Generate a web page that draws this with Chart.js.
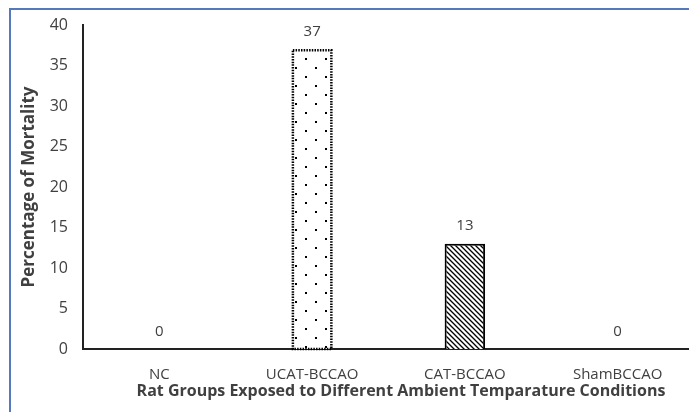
<!DOCTYPE html>
<html>
<head>
<meta charset="utf-8">
<script src="https://cdn.jsdelivr.net/npm/chart.js@4/dist/chart.umd.min.js"></script>
<style>
  html, body { margin: 0; padding: 0; background: #ffffff; overflow: hidden; }
  #wrap { position: relative; width: 689px; height: 412px; overflow: hidden; }
  #wrap canvas { position: absolute; left: 0; top: 0; }
  #frame { position: absolute; left: 9px; top: 8px; width: 690px; height: 420px;
           border-top: 2px solid #5679bd; border-left: 2px solid #5679bd; pointer-events: none; }
</style>
</head>
<body>
<div id="wrap">
  <canvas id="c" width="694" height="412" style="width:694px;height:412px"></canvas>
  <div id="frame"></div>
</div>
<script>
const categories = ['NC', 'UCAT-BCCAO', 'CAT-BCCAO', 'ShamBCCAO'];
const mortality = [0, 37, 13, 0];
const yTicks = [0, 5, 10, 15, 20, 25, 30, 35, 40];
const xTitle = 'Rat Groups Exposed to Different Ambient Temparature Conditions';
const yTitle = 'Percentage of Mortality';

// sparse staggered dot fill
function dotPattern() {
  const t = document.createElement('canvas');
  t.width = 20; t.height = 18;
  const g = t.getContext('2d');
  g.fillStyle = '#ffffff'; g.fillRect(0, 0, 20, 18);
  g.fillStyle = '#000000';
  g.fillRect(5, 4, 2, 2);
  g.fillRect(15, 13, 2, 2);
  return g.createPattern(t, 'repeat');
}
// dense backslash hatching
function hatchPattern() {
  const t = document.createElement('canvas');
  t.width = 5; t.height = 5;
  const g = t.getContext('2d');
  g.fillStyle = '#ffffff'; g.fillRect(0, 0, 5, 5);
  g.strokeStyle = '#000000'; g.lineWidth = 1.3;
  g.beginPath();
  g.moveTo(-1, -1); g.lineTo(6, 6);
  g.moveTo(-1, 4); g.lineTo(1, 6);
  g.moveTo(4, -1); g.lineTo(6, 1);
  g.stroke();
  return g.createPattern(t, 'repeat');
}

const fills = ['#ffffff', dotPattern(), hatchPattern(), '#ffffff'];
const dotted = [false, true, false, false];

// dotted outline for the speckled bar, value labels above every bar
const barDecor = {
  id: 'barDecor',
  afterDatasetsDraw(chart) {
    const ctx = chart.ctx;
    const meta = chart.getDatasetMeta(0);
    meta.data.forEach((bar, i) => {
      const { x, y, base, width } = bar.getProps(['x', 'y', 'base', 'width'], true);
      if (dotted[i] && mortality[i] > 0) {
        ctx.save();
        ctx.strokeStyle = '#000000';
        ctx.lineWidth = 2.5;
        ctx.setLineDash([1.5, 1.2]);
        ctx.strokeRect(x - width / 2 + 1, y + 1, width - 2, base - y - 1);
        ctx.restore();
      }
      ctx.save();
      ctx.fillStyle = '#404040';
      ctx.font = '15px "Open Sans"';
      ctx.textAlign = 'center';
      ctx.textBaseline = 'bottom';
      ctx.fillText(String(mortality[i]), x, y - 10);
      ctx.restore();
    });
  }
};

new Chart(document.getElementById('c'), {
  type: 'bar',
  data: {
    labels: categories,
    datasets: [{
      data: mortality,
      backgroundColor: fills,
      borderColor: dotted.map(d => d ? 'rgba(0,0,0,0)' : '#000000'),
      borderWidth: 2,
      borderSkipped: 'bottom',
      barPercentage: 0.265,
      categoryPercentage: 1
    }]
  },
  options: {
    responsive: false,
    animation: false,
    devicePixelRatio: 1,
    layout: { padding: { top: 25, right: 0, left: 0, bottom: 0 } },
    plugins: { legend: { display: false }, tooltip: { enabled: false } },
    scales: {
      x: {
        offset: true,
        grid: { display: false, drawTicks: false },
        border: { display: true, color: '#222222', width: 2 },
        ticks: { color: '#404040', font: { family: 'Open Sans', size: 15 }, padding: 17, maxRotation: 0 },
        title: { display: true, text: '      ' + xTitle, color: '#404040',
                 font: { family: 'Open Sans', size: 16, weight: 'bold' }, padding: { top: 0, bottom: 11 } },
        afterFit(s) { s.height = 63; }
      },
      y: {
        min: 0, max: 40,
        afterBuildTicks(s) { s.ticks = yTicks.map(v => ({ value: v })); },
        grid: { display: false, drawTicks: true, tickLength: 6, tickColor: '#222222', tickWidth: 1.5 },
        border: { display: true, color: '#222222', width: 2 },
        ticks: { color: '#404040', font: { family: 'Open Sans', size: 16 }, padding: 9 },
        title: { display: true, text: yTitle, color: '#404040',
                 font: { family: 'Open Sans', size: 17, weight: 'bold' }, padding: { top: 19, bottom: 0 } },
        afterFit(s) { s.width = 83; }
      }
    }
  },
  plugins: [barDecor]
});
</script>
</body>
</html>
